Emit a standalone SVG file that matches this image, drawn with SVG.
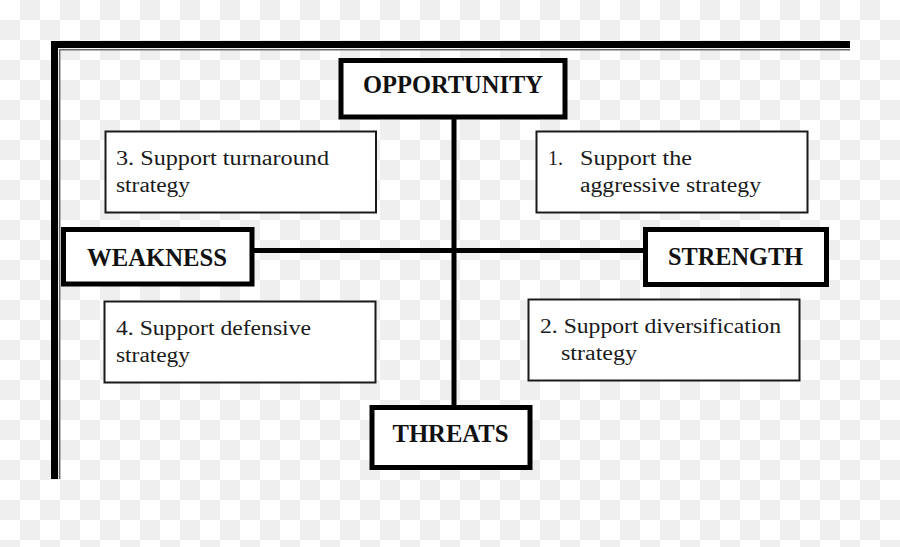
<svg xmlns="http://www.w3.org/2000/svg" width="900" height="547" viewBox="0 0 900 547">
<defs>
<pattern id="cb" width="40" height="40" patternUnits="userSpaceOnUse">
<rect width="40" height="40" fill="#ffffff"/>
<rect x="20" y="0" width="20" height="20" fill="#efefef"/>
<rect x="0" y="20" width="20" height="20" fill="#efefef"/>
</pattern>
</defs>
<style>
.lbl rect{fill:#fff;stroke:#000;stroke-width:5}
.lbl text{font-family:"Liberation Serif",serif;font-weight:bold;font-size:25px;fill:#111;text-anchor:start}
.box rect{fill:#fff;stroke:#1a1a1a;stroke-width:2}
.box text{font-family:"Liberation Serif",serif;font-size:20px;fill:#1a1a1a}
.conn line{stroke:#000;stroke-width:5}
</style>
<rect width="900" height="547" fill="url(#cb)"/>
<g id="frame">
<rect x="51" y="41" width="799" height="7" fill="#000"/>
<rect x="51" y="41" width="7" height="438" fill="#000"/>
<polyline points="59.7,479 59.7,49.7 850,49.7" fill="none" stroke="#6a6a6a" stroke-width="1.5"/>
</g>
<g id="connectors" class="conn">
<line x1="454" y1="117" x2="454" y2="407"/>
<line x1="252" y1="250.5" x2="646" y2="250.5"/>
</g>
<g id="opportunity" class="lbl">
<rect x="341" y="60.5" width="224" height="56.5"/>
<text x="363" y="93" textLength="180" lengthAdjust="spacingAndGlyphs">OPPORTUNITY</text>
</g>
<g id="weakness" class="lbl">
<rect x="63.5" y="229.5" width="188.5" height="54.5"/>
<text x="87" y="266" textLength="140" lengthAdjust="spacingAndGlyphs">WEAKNESS</text>
</g>
<g id="strength" class="lbl">
<rect x="645.5" y="229.5" width="181" height="55"/>
<text x="668" y="264.5" textLength="135" lengthAdjust="spacingAndGlyphs">STRENGTH</text>
</g>
<g id="threats" class="lbl">
<rect x="372" y="407.5" width="158" height="60"/>
<text x="392.5" y="441.5" textLength="116" lengthAdjust="spacingAndGlyphs">THREATS</text>
</g>
<g id="s3" class="box">
<rect x="105.5" y="131.5" width="270.5" height="81"/>
<text x="116" y="164.5" textLength="213" lengthAdjust="spacingAndGlyphs">3. Support turnaround</text>
<text x="116" y="191.5" textLength="74" lengthAdjust="spacingAndGlyphs">strategy</text>
</g>
<g id="s1" class="box">
<rect x="536.5" y="131.5" width="271" height="81"/>
<text x="548" y="165">1.</text>
<text x="580" y="165" textLength="112" lengthAdjust="spacingAndGlyphs">Support the</text>
<text x="580" y="191.5" textLength="181" lengthAdjust="spacingAndGlyphs">aggressive strategy</text>
</g>
<g id="s4" class="box">
<rect x="104.5" y="301.5" width="271" height="81"/>
<text x="116" y="335" textLength="195" lengthAdjust="spacingAndGlyphs">4. Support defensive</text>
<text x="116" y="362" textLength="74" lengthAdjust="spacingAndGlyphs">strategy</text>
</g>
<g id="s2" class="box">
<rect x="528.5" y="299.5" width="271" height="81"/>
<text x="540" y="333" textLength="241" lengthAdjust="spacingAndGlyphs">2. Support diversification</text>
<text x="561" y="360" textLength="76" lengthAdjust="spacingAndGlyphs">strategy</text>
</g>
</svg>
